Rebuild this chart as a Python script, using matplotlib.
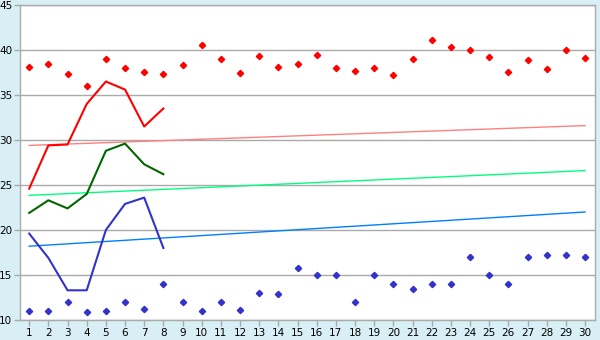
import numpy as np
import matplotlib
matplotlib.use("Agg")
import matplotlib.pyplot as plt

days = list(range(1, 31))

# upper points (red) and lower points (blue)
high_pts = [38.1, 38.5, 37.3, 36.0, 39.0, 38.0, 37.6, 37.3, 38.3, 40.6,
            39.0, 37.5, 39.3, 38.1, 38.5, 39.4, 38.0, 37.7, 38.0, 37.2,
            39.0, 41.1, 40.3, 40.0, 39.2, 37.6, 38.9, 37.9, 40.0, 39.1]
low_pts = [11.0, 11.0, 12.0, 10.9, 11.0, 12.0, 11.2, 14.0, 12.0, 11.0,
           12.0, 11.1, 13.0, 12.9, 15.8, 15.0, 15.0, 12.0, 15.0, 14.0,
           13.4, 14.0, 14.0, 17.0, 15.0, 14.0, 17.0, 17.2, 17.2, 17.0]

# lines for first 8 days
line_days = [1, 2, 3, 4, 5, 6, 7, 8]
red_line = [24.6, 29.4, 29.5, 34.0, 36.5, 35.6, 31.5, 33.5]
green_line = [21.9, 23.3, 22.4, 24.0, 28.8, 29.6, 27.3, 26.2]
blue_line = [19.6, 16.9, 13.3, 13.3, 20.0, 22.9, 23.6, 18.0]

# trend lines: value at day 1 and day 30
trend_days = [1, 30]
red_trend = [29.4, 31.6]
green_trend = [23.85, 26.6]
blue_trend = [18.2, 22.0]

bg = "#d8eff6"
fig = plt.figure(figsize=(6, 3.4), dpi=100, facecolor=bg)
ax = fig.add_axes([20 / 600, 20 / 340, 575 / 600, 315 / 340])
ax.set_facecolor("white")

ax.set_xlim(0.52, 30.52)
ax.set_ylim(10, 45)
ax.set_yticks(range(10, 46, 5))
ax.set_xticks(days)
ax.yaxis.grid(True, color="#aaaaaa", linewidth=1)
ax.set_axisbelow(True)

for s in ax.spines.values():
    s.set_color("#aaaaaa")
    s.set_linewidth(1)

ax.tick_params(axis="both", colors="#aaaaaa", labelcolor="black",
               labelsize=7.5, length=4, width=1, pad=1.5)

ax.plot(trend_days, red_trend, color="#ff8080", linewidth=1)
ax.plot(trend_days, green_trend, color="#00ff80", linewidth=1)
ax.plot(trend_days, blue_trend, color="#0080ff", linewidth=1)

ax.plot(line_days, red_line, color="#ff0000", linewidth=1.5)
ax.plot(line_days, green_line, color="#006600", linewidth=1.5)
ax.plot(line_days, blue_line, color="#3333cc", linewidth=1.5)

ax.plot(days, high_pts, linestyle="none", marker="D", markersize=3.2,
        color="#ff0000")
ax.plot(days, low_pts, linestyle="none", marker="D", markersize=3.2,
        color="#3333cc")

fig.savefig("out.png", dpi=100, facecolor=bg)
